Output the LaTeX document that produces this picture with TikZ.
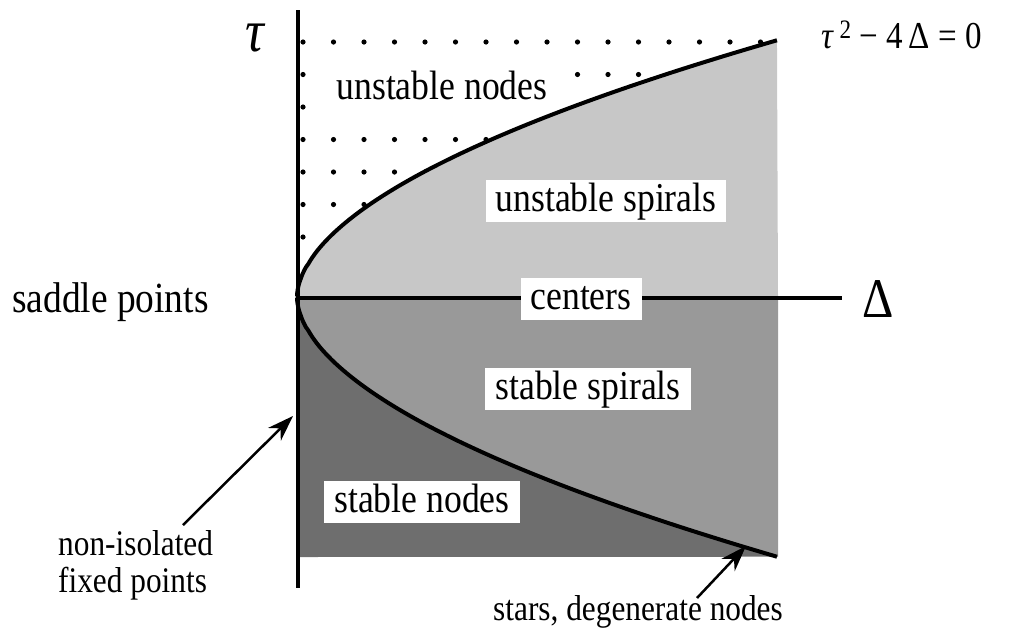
\documentclass[tikz,border=0pt]{standalone}
\usepackage{fontspec}
\setmainfont{Liberation Serif}
\newfontfamily\tfont{Liberation Serif}
\usepackage{graphicx}
\usetikzlibrary{arrows.meta}
\newcommand{\hs}[1]{\scalebox{0.87}[1]{\tfont #1}}
\definecolor{lightfill}{gray}{0.78}
\definecolor{midfill}{gray}{0.60}
\definecolor{darkfill}{gray}{0.43}
\begin{document}
\begin{tikzpicture}[x=1pt,y=-1pt,
  region/.style={fill=white, inner xsep=10pt, inner ysep=2pt, text height=29pt, text depth=9pt, font=\tfont\fontsize{41}{45}\selectfont},
  plain/.style={inner sep=0pt, anchor=base west, font=\tfont\fontsize{41}{45}\selectfont},
  small/.style={inner sep=0pt, anchor=base west, font=\tfont\fontsize{36}{37}\selectfont},
  axisline/.style={line width=4.5pt},
  bound/.style={line width=4pt},
  pointer/.style={line width=2.5pt, -{Stealth[length=26pt,width=18pt]}},
]
\useasboundingbox (0,0) rectangle (1033,633);

% shaded regions
\fill[lightfill] (297,297) -- plot[domain=0.002:1, samples=80, variable=\t] ({297+481*(\t)^1.85},{297-257*\t}) -- (778,297) -- cycle;
\fill[midfill] (297,297) -- (778,297) -- (778,557) -- plot[domain=1:0.002, samples=80, variable=\t] ({297+481*(\t)^1.85},{297+260*\t}) -- cycle;
\fill[darkfill] (297,297) -- plot[domain=0.002:1, samples=80, variable=\t] ({297+481*(\t)^1.85},{297+260*\t}) -- (297,557) -- cycle;

% dotted region (unstable nodes)
\begin{scope}
  \clip (297,30) -- (790,30) -- (790,40) -- (778,40) -- plot[domain=1:0.002, samples=80, variable=\t] ({297+481*(\t)^1.85},{297-257*\t}) -- cycle;
  \foreach \i in {0,...,15} \foreach \j in {0,...,6}
    \fill ({303+30.5*\i},{42+32.5*\j}) circle (2.6);
\end{scope}
\node[region, inner ysep=6pt] (un) at (442,89) {\hs{unstable nodes}};

% boundary curves
\draw[bound] plot[domain=0.002:1, samples=80, variable=\t] ({297+481*(\t)^1.85},{297-257*\t});
\draw[bound] plot[domain=0.002:1, samples=80, variable=\t] ({297+481*(\t)^1.85},{297+260*\t});

% axes
\coordinate (ytop) at (298,10);
\coordinate (ybot) at (298,588);
\coordinate (xleft) at (297,298);
\coordinate (xright) at (842,298);
\draw[axisline] (ytop) -- (ybot);
\draw[axisline] (xleft) -- (xright);

% region labels
\node[region] (us) at (606,201) {\hs{unstable spirals}};
\node[region] (ce) at (581,299) {\hs{centers}};
\node[region] (ss) at (588,389) {\hs{stable spirals}};
\node[region] (sn) at (422,502) {\hs{stable nodes}};

% axis labels
\node[inner sep=0pt, font=\tfont\fontsize{60}{60}\selectfont] (tau) at (255,38) {\hs{\itshape τ}};
\node[plain, font=\tfont\fontsize{56}{56}\selectfont] (delta) at (862,317) {\hs{Δ}};
\node[inner sep=0pt, anchor=base west, font=\tfont\fontsize{38}{40}\selectfont] (eq) at (821,48) {\hs{\textit{τ}\,\textsuperscript{2} − 4\,Δ = 0}};
\node[plain, font=\tfont\fontsize{43}{45}\selectfont] (sp) at (12,312) {\hs{saddle points}};
\node[small] (nf) at (58,555) {\hs{\begin{tabular}[t]{@{}l@{}}non-isolated\\fixed points\end{tabular}}};
\node[small] (st) at (493,620) {\hs{stars, degenerate nodes}};

% pointers
\coordinate (nfstart) at (183,525);
\coordinate (nftip) at (293,416);
\coordinate (ststart) at (697,598);
\coordinate (sttip) at (746,546);
\draw[pointer] (nfstart) -- (nftip);
\draw[pointer] (ststart) -- (sttip);
\end{tikzpicture}
\end{document}
